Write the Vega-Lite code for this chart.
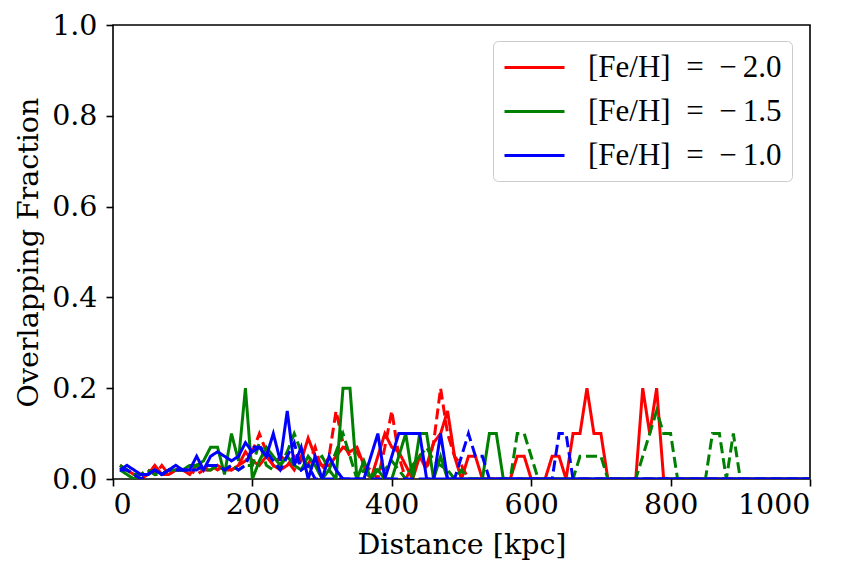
{
"$schema": "https://vega.github.io/schema/vega-lite/v6.json",
"autosize": "none",
"width": 697,
"height": 454,
"padding": {"left": 113, "top": 25, "right": 53, "bottom": 95},
"background": "white",
"config": {
  "view": {"stroke": "black", "strokeWidth": 1.6},
  "axis": {"grid": false, "domain": false, "labelFont": "DejaVu Serif", "labelFontSize": 28.5, "labelColor": "black", "tickColor": "black", "tickSize": 7, "tickWidth": 1.6, "titleFont": "DejaVu Serif", "titleFontSize": 28.5, "titleFontWeight": "normal", "titleColor": "black"}
},
"datasets": {
"d": [
{"d":10,"f":0.02,"m":"R","s":"solid"},{"d":20,"f":0.02,"m":"R","s":"solid"},{"d":30,"f":0.01,"m":"R","s":"solid"},{"d":40,"f":0,"m":"R","s":"solid"},{"d":50,"f":0.01,"m":"R","s":"solid"},{"d":60,"f":0.03,"m":"R","s":"solid"},{"d":70,"f":0.01,"m":"R","s":"solid"},{"d":80,"f":0.01,"m":"R","s":"solid"},{"d":90,"f":0.02,"m":"R","s":"solid"},{"d":100,"f":0.02,"m":"R","s":"solid"},{"d":110,"f":0.01,"m":"R","s":"solid"},{"d":120,"f":0.03,"m":"R","s":"solid"},{"d":130,"f":0.02,"m":"R","s":"solid"},{"d":140,"f":0.02,"m":"R","s":"solid"},{"d":150,"f":0.03,"m":"R","s":"solid"},{"d":160,"f":0.02,"m":"R","s":"solid"},{"d":170,"f":0.02,"m":"R","s":"solid"},{"d":180,"f":0.03,"m":"R","s":"solid"},{"d":190,"f":0.06,"m":"R","s":"solid"},{"d":200,"f":0.04,"m":"R","s":"solid"},{"d":210,"f":0.03,"m":"R","s":"solid"},{"d":220,"f":0.05,"m":"R","s":"solid"},{"d":230,"f":0.03,"m":"R","s":"solid"},{"d":240,"f":0.02,"m":"R","s":"solid"},{"d":250,"f":0.03,"m":"R","s":"solid"},{"d":260,"f":0.05,"m":"R","s":"solid"},{"d":270,"f":0.04,"m":"R","s":"solid"},{"d":280,"f":0.09,"m":"R","s":"solid"},{"d":290,"f":0.05,"m":"R","s":"solid"},{"d":300,"f":0.03,"m":"R","s":"solid"},{"d":310,"f":0.03,"m":"R","s":"solid"},{"d":320,"f":0.05,"m":"R","s":"solid"},{"d":330,"f":0.07,"m":"R","s":"solid"},{"d":340,"f":0.06,"m":"R","s":"solid"},{"d":350,"f":0.07,"m":"R","s":"solid"},{"d":360,"f":0.03,"m":"R","s":"solid"},{"d":370,"f":0,"m":"R","s":"solid"},{"d":380,"f":0.05,"m":"R","s":"solid"},{"d":390,"f":0.1,"m":"R","s":"solid"},{"d":400,"f":0.07,"m":"R","s":"solid"},{"d":410,"f":0.06,"m":"R","s":"solid"},{"d":420,"f":0.03,"m":"R","s":"solid"},{"d":430,"f":0,"m":"R","s":"solid"},{"d":440,"f":0.05,"m":"R","s":"solid"},{"d":450,"f":0.03,"m":"R","s":"solid"},{"d":460,"f":0.08,"m":"R","s":"solid"},{"d":470,"f":0.1,"m":"R","s":"solid"},{"d":480,"f":0.15,"m":"R","s":"solid"},{"d":490,"f":0.05,"m":"R","s":"solid"},{"d":500,"f":0,"m":"R","s":"solid"},{"d":510,"f":0.05,"m":"R","s":"solid"},{"d":520,"f":0.05,"m":"R","s":"solid"},{"d":530,"f":0,"m":"R","s":"solid"},{"d":570,"f":0,"m":"R","s":"solid"},{"d":580,"f":0.05,"m":"R","s":"solid"},{"d":590,"f":0.05,"m":"R","s":"solid"},{"d":600,"f":0,"m":"R","s":"solid"},{"d":620,"f":0,"m":"R","s":"solid"},{"d":630,"f":0.05,"m":"R","s":"solid"},{"d":640,"f":0.05,"m":"R","s":"solid"},{"d":650,"f":0,"m":"R","s":"solid"},{"d":660,"f":0.1,"m":"R","s":"solid"},{"d":670,"f":0.1,"m":"R","s":"solid"},{"d":680,"f":0.2,"m":"R","s":"solid"},{"d":690,"f":0.1,"m":"R","s":"solid"},{"d":700,"f":0.1,"m":"R","s":"solid"},{"d":710,"f":0,"m":"R","s":"solid"},{"d":750,"f":0,"m":"R","s":"solid"},{"d":760,"f":0.2,"m":"R","s":"solid"},{"d":770,"f":0.1,"m":"R","s":"solid"},{"d":780,"f":0.2,"m":"R","s":"solid"},{"d":790,"f":0,"m":"R","s":"solid"},{"d":1000,"f":0,"m":"R","s":"solid"},

{"d":10,"f":0.03,"m":"R","s":"dashed"},{"d":20,"f":0.02,"m":"R","s":"dashed"},{"d":30,"f":0.01,"m":"R","s":"dashed"},{"d":40,"f":0.01,"m":"R","s":"dashed"},{"d":50,"f":0.02,"m":"R","s":"dashed"},{"d":60,"f":0.01,"m":"R","s":"dashed"},{"d":70,"f":0.03,"m":"R","s":"dashed"},{"d":80,"f":0.01,"m":"R","s":"dashed"},{"d":90,"f":0.02,"m":"R","s":"dashed"},{"d":100,"f":0.02,"m":"R","s":"dashed"},{"d":110,"f":0.02,"m":"R","s":"dashed"},{"d":120,"f":0.01,"m":"R","s":"dashed"},{"d":130,"f":0.02,"m":"R","s":"dashed"},{"d":140,"f":0.03,"m":"R","s":"dashed"},{"d":150,"f":0.02,"m":"R","s":"dashed"},{"d":160,"f":0.03,"m":"R","s":"dashed"},{"d":170,"f":0.02,"m":"R","s":"dashed"},{"d":180,"f":0.03,"m":"R","s":"dashed"},{"d":190,"f":0.04,"m":"R","s":"dashed"},{"d":200,"f":0.06,"m":"R","s":"dashed"},{"d":210,"f":0.1,"m":"R","s":"dashed"},{"d":220,"f":0.06,"m":"R","s":"dashed"},{"d":230,"f":0.03,"m":"R","s":"dashed"},{"d":240,"f":0.05,"m":"R","s":"dashed"},{"d":250,"f":0.04,"m":"R","s":"dashed"},{"d":260,"f":0.02,"m":"R","s":"dashed"},{"d":270,"f":0.05,"m":"R","s":"dashed"},{"d":280,"f":0.03,"m":"R","s":"dashed"},{"d":290,"f":0.07,"m":"R","s":"dashed"},{"d":300,"f":0.02,"m":"R","s":"dashed"},{"d":310,"f":0.05,"m":"R","s":"dashed"},{"d":320,"f":0.15,"m":"R","s":"dashed"},{"d":330,"f":0.08,"m":"R","s":"dashed"},{"d":340,"f":0.05,"m":"R","s":"dashed"},{"d":350,"f":0.06,"m":"R","s":"dashed"},{"d":360,"f":0.03,"m":"R","s":"dashed"},{"d":370,"f":0.02,"m":"R","s":"dashed"},{"d":380,"f":0,"m":"R","s":"dashed"},{"d":390,"f":0.07,"m":"R","s":"dashed"},{"d":400,"f":0.15,"m":"R","s":"dashed"},{"d":410,"f":0.05,"m":"R","s":"dashed"},{"d":420,"f":0,"m":"R","s":"dashed"},{"d":430,"f":0.03,"m":"R","s":"dashed"},{"d":440,"f":0.05,"m":"R","s":"dashed"},{"d":450,"f":0.02,"m":"R","s":"dashed"},{"d":460,"f":0.08,"m":"R","s":"dashed"},{"d":470,"f":0.2,"m":"R","s":"dashed"},{"d":480,"f":0.1,"m":"R","s":"dashed"},{"d":490,"f":0.05,"m":"R","s":"dashed"},{"d":500,"f":0.03,"m":"R","s":"dashed"},{"d":510,"f":0,"m":"R","s":"dashed"},{"d":1000,"f":0,"m":"R","s":"dashed"},

{"d":10,"f":0.02,"m":"G","s":"solid"},{"d":20,"f":0.01,"m":"G","s":"solid"},{"d":30,"f":0,"m":"G","s":"solid"},{"d":40,"f":0.01,"m":"G","s":"solid"},{"d":50,"f":0.01,"m":"G","s":"solid"},{"d":60,"f":0.02,"m":"G","s":"solid"},{"d":70,"f":0.01,"m":"G","s":"solid"},{"d":80,"f":0.02,"m":"G","s":"solid"},{"d":90,"f":0.02,"m":"G","s":"solid"},{"d":100,"f":0.02,"m":"G","s":"solid"},{"d":110,"f":0.03,"m":"G","s":"solid"},{"d":120,"f":0.03,"m":"G","s":"solid"},{"d":130,"f":0.04,"m":"G","s":"solid"},{"d":140,"f":0.07,"m":"G","s":"solid"},{"d":150,"f":0.07,"m":"G","s":"solid"},{"d":160,"f":0.01,"m":"G","s":"solid"},{"d":170,"f":0.1,"m":"G","s":"solid"},{"d":180,"f":0.04,"m":"G","s":"solid"},{"d":190,"f":0.2,"m":"G","s":"solid"},{"d":200,"f":0,"m":"G","s":"solid"},{"d":210,"f":0.04,"m":"G","s":"solid"},{"d":220,"f":0.07,"m":"G","s":"solid"},{"d":230,"f":0.05,"m":"G","s":"solid"},{"d":240,"f":0.03,"m":"G","s":"solid"},{"d":250,"f":0.05,"m":"G","s":"solid"},{"d":260,"f":0.03,"m":"G","s":"solid"},{"d":270,"f":0.02,"m":"G","s":"solid"},{"d":280,"f":0.05,"m":"G","s":"solid"},{"d":290,"f":0.03,"m":"G","s":"solid"},{"d":300,"f":0,"m":"G","s":"solid"},{"d":310,"f":0.02,"m":"G","s":"solid"},{"d":320,"f":0,"m":"G","s":"solid"},{"d":330,"f":0.2,"m":"G","s":"solid"},{"d":340,"f":0.2,"m":"G","s":"solid"},{"d":350,"f":0,"m":"G","s":"solid"},{"d":360,"f":0.04,"m":"G","s":"solid"},{"d":370,"f":0,"m":"G","s":"solid"},{"d":380,"f":0.02,"m":"G","s":"solid"},{"d":390,"f":0,"m":"G","s":"solid"},{"d":400,"f":0,"m":"G","s":"solid"},{"d":410,"f":0.05,"m":"G","s":"solid"},{"d":420,"f":0.1,"m":"G","s":"solid"},{"d":430,"f":0,"m":"G","s":"solid"},{"d":440,"f":0.1,"m":"G","s":"solid"},{"d":450,"f":0.1,"m":"G","s":"solid"},{"d":460,"f":0,"m":"G","s":"solid"},{"d":470,"f":0.05,"m":"G","s":"solid"},{"d":480,"f":0,"m":"G","s":"solid"},{"d":530,"f":0,"m":"G","s":"solid"},{"d":540,"f":0.1,"m":"G","s":"solid"},{"d":550,"f":0.1,"m":"G","s":"solid"},{"d":560,"f":0,"m":"G","s":"solid"},{"d":1000,"f":0,"m":"G","s":"solid"},

{"d":10,"f":0.03,"m":"G","s":"dashed"},{"d":20,"f":0.02,"m":"G","s":"dashed"},{"d":30,"f":0.01,"m":"G","s":"dashed"},{"d":40,"f":0.01,"m":"G","s":"dashed"},{"d":50,"f":0.02,"m":"G","s":"dashed"},{"d":60,"f":0.01,"m":"G","s":"dashed"},{"d":70,"f":0.01,"m":"G","s":"dashed"},{"d":80,"f":0.02,"m":"G","s":"dashed"},{"d":90,"f":0.02,"m":"G","s":"dashed"},{"d":100,"f":0.02,"m":"G","s":"dashed"},{"d":110,"f":0.02,"m":"G","s":"dashed"},{"d":120,"f":0.03,"m":"G","s":"dashed"},{"d":130,"f":0.02,"m":"G","s":"dashed"},{"d":140,"f":0.02,"m":"G","s":"dashed"},{"d":150,"f":0.03,"m":"G","s":"dashed"},{"d":160,"f":0.02,"m":"G","s":"dashed"},{"d":170,"f":0.03,"m":"G","s":"dashed"},{"d":180,"f":0.02,"m":"G","s":"dashed"},{"d":190,"f":0.03,"m":"G","s":"dashed"},{"d":200,"f":0.03,"m":"G","s":"dashed"},{"d":210,"f":0.08,"m":"G","s":"dashed"},{"d":220,"f":0.03,"m":"G","s":"dashed"},{"d":230,"f":0.02,"m":"G","s":"dashed"},{"d":240,"f":0.03,"m":"G","s":"dashed"},{"d":250,"f":0.06,"m":"G","s":"dashed"},{"d":260,"f":0.1,"m":"G","s":"dashed"},{"d":270,"f":0.06,"m":"G","s":"dashed"},{"d":280,"f":0.02,"m":"G","s":"dashed"},{"d":290,"f":0.04,"m":"G","s":"dashed"},{"d":300,"f":0.05,"m":"G","s":"dashed"},{"d":310,"f":0.02,"m":"G","s":"dashed"},{"d":320,"f":0.06,"m":"G","s":"dashed"},{"d":330,"f":0.1,"m":"G","s":"dashed"},{"d":340,"f":0.05,"m":"G","s":"dashed"},{"d":350,"f":0,"m":"G","s":"dashed"},{"d":360,"f":0.02,"m":"G","s":"dashed"},{"d":370,"f":0,"m":"G","s":"dashed"},{"d":380,"f":0.03,"m":"G","s":"dashed"},{"d":390,"f":0.02,"m":"G","s":"dashed"},{"d":400,"f":0.04,"m":"G","s":"dashed"},{"d":410,"f":0.02,"m":"G","s":"dashed"},{"d":420,"f":0,"m":"G","s":"dashed"},{"d":430,"f":0.03,"m":"G","s":"dashed"},{"d":440,"f":0.05,"m":"G","s":"dashed"},{"d":450,"f":0.07,"m":"G","s":"dashed"},{"d":460,"f":0.04,"m":"G","s":"dashed"},{"d":470,"f":0.03,"m":"G","s":"dashed"},{"d":480,"f":0.02,"m":"G","s":"dashed"},{"d":490,"f":0,"m":"G","s":"dashed"},{"d":500,"f":0.02,"m":"G","s":"dashed"},{"d":510,"f":0,"m":"G","s":"dashed"},{"d":570,"f":0,"m":"G","s":"dashed"},{"d":580,"f":0.1,"m":"G","s":"dashed"},{"d":590,"f":0.1,"m":"G","s":"dashed"},{"d":600,"f":0.05,"m":"G","s":"dashed"},{"d":610,"f":0,"m":"G","s":"dashed"},{"d":660,"f":0,"m":"G","s":"dashed"},{"d":670,"f":0.05,"m":"G","s":"dashed"},{"d":680,"f":0.05,"m":"G","s":"dashed"},{"d":690,"f":0.05,"m":"G","s":"dashed"},{"d":700,"f":0.05,"m":"G","s":"dashed"},{"d":710,"f":0,"m":"G","s":"dashed"},{"d":750,"f":0,"m":"G","s":"dashed"},{"d":760,"f":0.05,"m":"G","s":"dashed"},{"d":770,"f":0.1,"m":"G","s":"dashed"},{"d":780,"f":0.15,"m":"G","s":"dashed"},{"d":790,"f":0.1,"m":"G","s":"dashed"},{"d":800,"f":0.1,"m":"G","s":"dashed"},{"d":810,"f":0,"m":"G","s":"dashed"},{"d":850,"f":0,"m":"G","s":"dashed"},{"d":860,"f":0.1,"m":"G","s":"dashed"},{"d":870,"f":0.1,"m":"G","s":"dashed"},{"d":880,"f":0,"m":"G","s":"dashed"},{"d":890,"f":0.1,"m":"G","s":"dashed"},{"d":900,"f":0,"m":"G","s":"dashed"},{"d":1000,"f":0,"m":"G","s":"dashed"},

{"d":10,"f":0.02,"m":"B","s":"solid"},{"d":20,"f":0.03,"m":"B","s":"solid"},{"d":30,"f":0.02,"m":"B","s":"solid"},{"d":40,"f":0.01,"m":"B","s":"solid"},{"d":50,"f":0.01,"m":"B","s":"solid"},{"d":60,"f":0.02,"m":"B","s":"solid"},{"d":70,"f":0.01,"m":"B","s":"solid"},{"d":80,"f":0.02,"m":"B","s":"solid"},{"d":90,"f":0.03,"m":"B","s":"solid"},{"d":100,"f":0.02,"m":"B","s":"solid"},{"d":110,"f":0.02,"m":"B","s":"solid"},{"d":120,"f":0.05,"m":"B","s":"solid"},{"d":130,"f":0.02,"m":"B","s":"solid"},{"d":140,"f":0.05,"m":"B","s":"solid"},{"d":150,"f":0.06,"m":"B","s":"solid"},{"d":160,"f":0.05,"m":"B","s":"solid"},{"d":170,"f":0.04,"m":"B","s":"solid"},{"d":180,"f":0.05,"m":"B","s":"solid"},{"d":190,"f":0.08,"m":"B","s":"solid"},{"d":200,"f":0.06,"m":"B","s":"solid"},{"d":210,"f":0.07,"m":"B","s":"solid"},{"d":220,"f":0.05,"m":"B","s":"solid"},{"d":230,"f":0.1,"m":"B","s":"solid"},{"d":240,"f":0.04,"m":"B","s":"solid"},{"d":250,"f":0.15,"m":"B","s":"solid"},{"d":260,"f":0.03,"m":"B","s":"solid"},{"d":270,"f":0.07,"m":"B","s":"solid"},{"d":280,"f":0,"m":"B","s":"solid"},{"d":290,"f":0.05,"m":"B","s":"solid"},{"d":300,"f":0,"m":"B","s":"solid"},{"d":310,"f":0.05,"m":"B","s":"solid"},{"d":320,"f":0.02,"m":"B","s":"solid"},{"d":330,"f":0,"m":"B","s":"solid"},{"d":360,"f":0,"m":"B","s":"solid"},{"d":370,"f":0.05,"m":"B","s":"solid"},{"d":380,"f":0.1,"m":"B","s":"solid"},{"d":390,"f":0,"m":"B","s":"solid"},{"d":400,"f":0.05,"m":"B","s":"solid"},{"d":410,"f":0.1,"m":"B","s":"solid"},{"d":420,"f":0.1,"m":"B","s":"solid"},{"d":430,"f":0.1,"m":"B","s":"solid"},{"d":440,"f":0.1,"m":"B","s":"solid"},{"d":450,"f":0,"m":"B","s":"solid"},{"d":460,"f":0,"m":"B","s":"solid"},{"d":470,"f":0.1,"m":"B","s":"solid"},{"d":480,"f":0,"m":"B","s":"solid"},{"d":1000,"f":0,"m":"B","s":"solid"},

{"d":10,"f":0.02,"m":"B","s":"dashed"},{"d":20,"f":0.02,"m":"B","s":"dashed"},{"d":30,"f":0.01,"m":"B","s":"dashed"},{"d":40,"f":0,"m":"B","s":"dashed"},{"d":50,"f":0.01,"m":"B","s":"dashed"},{"d":60,"f":0.02,"m":"B","s":"dashed"},{"d":70,"f":0.01,"m":"B","s":"dashed"},{"d":80,"f":0.02,"m":"B","s":"dashed"},{"d":90,"f":0.02,"m":"B","s":"dashed"},{"d":100,"f":0.02,"m":"B","s":"dashed"},{"d":110,"f":0.02,"m":"B","s":"dashed"},{"d":120,"f":0.02,"m":"B","s":"dashed"},{"d":130,"f":0.03,"m":"B","s":"dashed"},{"d":140,"f":0.03,"m":"B","s":"dashed"},{"d":150,"f":0.03,"m":"B","s":"dashed"},{"d":160,"f":0.02,"m":"B","s":"dashed"},{"d":170,"f":0.03,"m":"B","s":"dashed"},{"d":180,"f":0.02,"m":"B","s":"dashed"},{"d":190,"f":0.03,"m":"B","s":"dashed"},{"d":200,"f":0.07,"m":"B","s":"dashed"},{"d":210,"f":0.07,"m":"B","s":"dashed"},{"d":220,"f":0.06,"m":"B","s":"dashed"},{"d":230,"f":0.04,"m":"B","s":"dashed"},{"d":240,"f":0.02,"m":"B","s":"dashed"},{"d":250,"f":0.05,"m":"B","s":"dashed"},{"d":260,"f":0.08,"m":"B","s":"dashed"},{"d":270,"f":0.02,"m":"B","s":"dashed"},{"d":280,"f":0.03,"m":"B","s":"dashed"},{"d":290,"f":0,"m":"B","s":"dashed"},{"d":490,"f":0,"m":"B","s":"dashed"},{"d":500,"f":0.05,"m":"B","s":"dashed"},{"d":510,"f":0.1,"m":"B","s":"dashed"},{"d":520,"f":0.05,"m":"B","s":"dashed"},{"d":530,"f":0.05,"m":"B","s":"dashed"},{"d":540,"f":0,"m":"B","s":"dashed"},{"d":630,"f":0,"m":"B","s":"dashed"},{"d":640,"f":0.1,"m":"B","s":"dashed"},{"d":650,"f":0.1,"m":"B","s":"dashed"},{"d":660,"f":0,"m":"B","s":"dashed"},{"d":1000,"f":0,"m":"B","s":"dashed"}
]
},
"data": {"name": "d"},
"mark": {"type": "line", "strokeWidth": 3, "clip": true},
"encoding": {
  "x": {"field": "d", "type": "quantitative", "scale": {"domain": [0, 1000], "nice": false}, "axis": {"values": [0, 200, 400, 600, 800, 1000], "format": "d", "labelPadding": 4, "title": "Distance [kpc]", "titlePadding": 12}},
  "y": {"field": "f", "type": "quantitative", "scale": {"domain": [0, 1], "nice": false}, "axis": {"values": [0, 0.2, 0.4, 0.6, 0.8, 1.0], "format": ".1f", "labelPadding": 9, "title": "Overlapping Fraction", "titlePadding": 8}},
  "color": {"field": "m", "type": "nominal", "scale": {"domain": ["R", "G", "B"], "range": ["#ff0000", "#008000", "#0000ff"]},
    "legend": {"orient": "none", "legendX": 380, "legendY": 16, "title": null, "labelExpr": "datum.value == 'R' ? '[Fe/H]\u2002=\u2002\u2212\u20092.0' : datum.value == 'G' ? '[Fe/H]\u2002=\u2002\u2212\u20091.5' : '[Fe/H]\u2002=\u2002\u2212\u20091.0'", "labelFont": "Liberation Serif", "labelFontSize": 31, "labelColor": "black", "symbolType": "M-1,0H3", "symbolSize": 900, "symbolStrokeWidth": 3, "labelOffset": 52, "rowPadding": 12, "padding": 10, "strokeColor": "#cccccc", "fillColor": "rgba(255,255,255,0.8)", "cornerRadius": 5, "labelLimit": 400}},
  "strokeDash": {"field": "s", "type": "nominal", "scale": {"domain": ["solid", "dashed"], "range": [[1, 0], [11, 5]]}, "legend": null}
}
}
